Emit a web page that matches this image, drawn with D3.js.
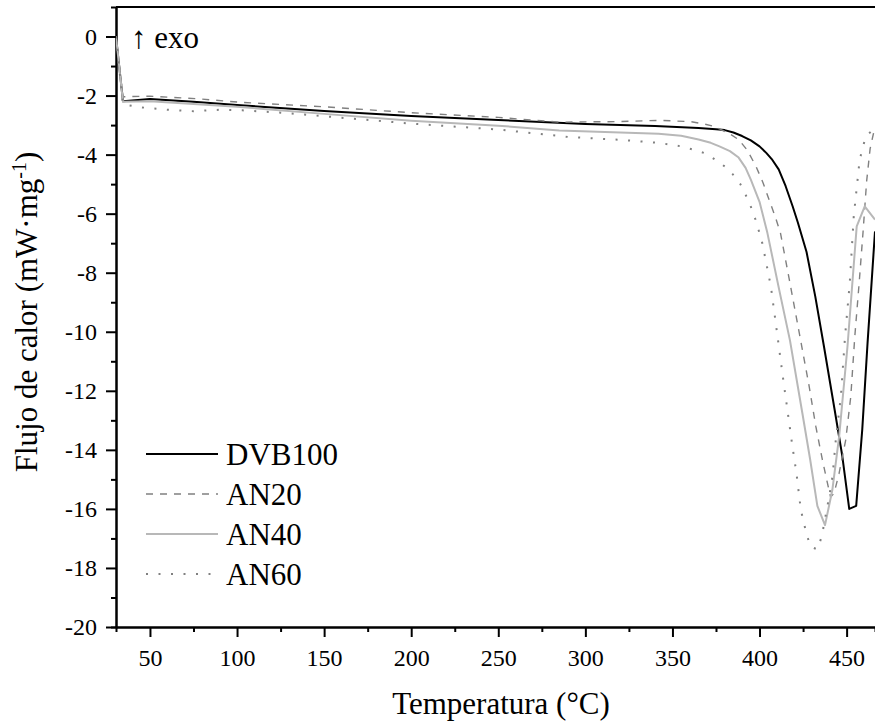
<!DOCTYPE html>
<html>
<head>
<meta charset="utf-8">
<script src="https://cdn.jsdelivr.net/npm/d3@7"></script>
<style>
    body { margin: 0; background: #fff; }
    svg { display: block; font-family: "Liberation Serif", "Times New Roman", "DejaVu Serif", serif; }
    svg text { font-family: "Liberation Serif", "Times New Roman", "DejaVu Serif", serif; fill: #000; }
</style>
</head>
<body>
<div id="chart"></div>
<script>
// temperatures (°C) and heat flow (mW/mg)
var dvbT = [30.5, 34.5, 50, 75, 100, 150, 200, 250, 300, 340, 365, 375, 380, 385, 390, 395, 400, 404, 407, 411, 415, 419, 422, 427, 432, 437, 443, 447.5, 451.5, 455.5, 459, 462, 466.3];
var dvbV = [0, -2.19, -2.12, -2.21, -2.32, -2.52, -2.69, -2.83, -2.96, -3.03, -3.10, -3.14, -3.17, -3.25, -3.37, -3.52, -3.72, -3.95, -4.15, -4.5, -5.07, -5.75, -6.3, -7.3, -8.8, -10.5, -12.6, -14.2, -16.0, -15.9, -13.3, -10.4, -6.6];

var an20T = [30.5, 34.5, 50, 78, 100, 150, 200, 250, 285, 320, 342, 360, 368, 373, 377, 383, 388, 393, 398, 402, 405.5, 409, 412, 417, 423, 428.5, 432.3, 436.1, 439, 440.8, 442.8, 445.7, 449.5, 452.4, 454.7, 457.2, 459.4, 461.5, 463.5, 466.3];
var an20V = [0, -2.04, -2.02, -2.11, -2.22, -2.38, -2.58, -2.74, -2.90, -2.88, -2.84, -2.88, -2.96, -3.03, -3.13, -3.30, -3.49, -3.85, -4.40, -4.95, -5.53, -6.1, -6.65, -8.2, -10.1, -11.85, -13.2, -14.34, -15.13, -15.6, -15.47, -14.79, -13.66, -12.19, -10.16, -8.35, -6.65, -4.9, -3.8, -3.05];

var an40T = [30.5, 34.5, 50, 100, 150, 200, 250, 285, 320, 342, 355, 365, 372, 377, 383, 388, 392, 395, 400, 404.5, 411.3, 417.5, 424.6, 429, 433.2, 437.6, 441.8, 445.7, 450.5, 455.8, 460.4, 466.3];
var an40V = [0, -2.21, -2.19, -2.38, -2.62, -2.85, -3.02, -3.18, -3.25, -3.29, -3.36, -3.49, -3.6, -3.72, -3.88, -4.1, -4.45, -4.85, -5.6, -6.65, -8.58, -10.3, -12.76, -14.3, -15.9, -16.55, -15.36, -13.55, -10.5, -6.43, -5.75, -6.2];

var an60T = [30.5, 34.5, 45, 60, 75, 90, 103, 125, 150, 200, 250, 290, 320, 342, 355, 362, 369, 374.5, 380, 384.4, 389, 394, 398, 401.6, 406.5, 410.2, 413.1, 416, 418.9, 421.2, 423.7, 427.1, 429.4, 433.2, 435.7, 440, 441.9, 443.8, 446.7, 449.1, 451.8, 454.1, 457.5, 461, 466.3];
var an60V = [0, -2.3, -2.4, -2.48, -2.53, -2.48, -2.5, -2.58, -2.7, -2.95, -3.15, -3.40, -3.5, -3.60, -3.72, -3.83, -3.96, -4.17, -4.4, -4.65, -5.0, -5.6, -6.25, -7.0, -8.46, -10.1, -11.4, -12.64, -13.89, -14.79, -16.03, -16.88, -17.28, -17.37, -16.94, -15.58, -14.9, -13.66, -12.19, -10.16, -8.35, -6.09, -4.17, -3.38, -3.1];

var seriesNames = ["DVB100", "AN20", "AN40", "AN60"];
var xTicks = [50, 100, 150, 200, 250, 300, 350, 400, 450];
var yTicks = [-20, -18, -16, -14, -12, -10, -8, -6, -4, -2, 0];

(function () {
    var margin = { top: 7, left: 116, right: 0, bottom: 99 },
        width = 875 - margin.left - margin.right,
        height = 726 - margin.top - margin.bottom;

    var styles = [
        { color: "#000", width: 2, dash: null },
        { color: "#808080", width: 1.4, dash: "7,7" },
        { color: "#b8b8b8", width: 2, dash: null },
        { color: "#808080", width: 2, dash: "2,10.5" }
    ];

    var raw = [[dvbT, dvbV], [an20T, an20V], [an40T, an40V], [an60T, an60V]];
    var series = raw.map(function (p, i) {
        return {
            name: seriesNames[i],
            style: styles[i],
            values: p[0].map(function (t, j) { return { t: t, v: p[1][j] }; })
        };
    });

    var svg = d3.select("#chart")
        .append("svg")
        .attr("width", 875)
        .attr("height", 726)
        .append("g")
        .attr("transform", "translate(" + margin.left + "," + margin.top + ")");

    var x = d3.scaleLinear().domain([30.5, 466.3]).range([0, width]);
    var y = d3.scaleLinear().domain([-20, 1]).range([height, 0]);

    svg.append("clipPath").attr("id", "clip")
        .append("rect").attr("width", width).attr("height", height);

    // minor ticks first
    svg.append("g").attr("class", "axis")
        .attr("transform", "translate(0," + height + ")")
        .call(d3.axisBottom(x).tickValues(d3.range(75, 466, 50)).tickSize(5).tickFormat(""));
    svg.append("g").attr("class", "axis")
        .call(d3.axisLeft(y).tickValues(d3.range(-19, 0, 2)).tickSize(5).tickFormat(""));

    var xAxis = svg.append("g").attr("class", "axis")
        .attr("transform", "translate(0," + height + ")")
        .call(d3.axisBottom(x).tickValues(xTicks).tickSize(10).tickSizeOuter(0).tickPadding(12)
            .tickFormat(function (d) { return String(d); }));
    var yAxis = svg.append("g").attr("class", "axis")
        .call(d3.axisLeft(y).tickValues(yTicks).tickSize(10).tickSizeOuter(0).tickPadding(9)
            .tickFormat(function (d) { return String(d); }));

    svg.selectAll(".axis path, .axis line")
        .attr("stroke", "#000")
        .attr("stroke-width", 2);
    svg.selectAll(".axis text")
        .style("font-size", "24px");

    // top frame line
    svg.append("line")
        .attr("x1", 0).attr("x2", width)
        .attr("y1", 0).attr("y2", 0)
        .attr("stroke", "#000").attr("stroke-width", 2);

    var line = d3.line()
        .x(function (d) { return x(d.t); })
        .y(function (d) { return y(d.v); });

    svg.append("g").attr("clip-path", "url(#clip)")
        .selectAll("path")
        .data(series)
        .enter().append("path")
        .attr("d", function (d) { return line(d.values); })
        .attr("fill", "none")
        .attr("stroke", function (d) { return d.style.color; })
        .attr("stroke-width", function (d) { return d.style.width; })
        .attr("stroke-dasharray", function (d) { return d.style.dash; })
        .attr("stroke-linejoin", "round");

    // legend
    var legend = svg.append("g")
        .attr("transform", "translate(30," + 447 + ")");
    var item = legend.selectAll("g")
        .data(series)
        .enter().append("g")
        .attr("transform", function (d, i) { return "translate(0," + (i * 40) + ")"; });
    item.append("line")
        .attr("x1", 0).attr("x2", 72)
        .attr("stroke", function (d) { return d.style.color; })
        .attr("stroke-width", function (d) { return d.style.width; })
        .attr("stroke-dasharray", function (d) { return d.style.dash; });
    item.append("text")
        .attr("x", 80).attr("y", 11)
        .style("font-size", "31px")
        .text(function (d) { return d.name; });

    svg.append("text")
        .attr("x", 15).attr("y", 41)
        .style("font-size", "31px")
        .text("\u2191\uFE0E exo");

    svg.append("text")
        .attr("x", 385).attr("y", 707)
        .attr("text-anchor", "middle")
        .style("font-size", "31px")
        .text("Temperatura (\u00b0C)");

    var yl = svg.append("text")
        .attr("transform", "translate(" + (37 - margin.left) + "," + 305 + ") rotate(-90)")
        .attr("text-anchor", "middle")
        .style("font-size", "31px");
    yl.append("tspan").text("Flujo de calor (mW\u00b7mg");
    yl.append("tspan").attr("dy", -11).style("font-size", "20px").text("-1");
    yl.append("tspan").attr("dy", 11).text(")");
})();
</script>
</body>
</html>
